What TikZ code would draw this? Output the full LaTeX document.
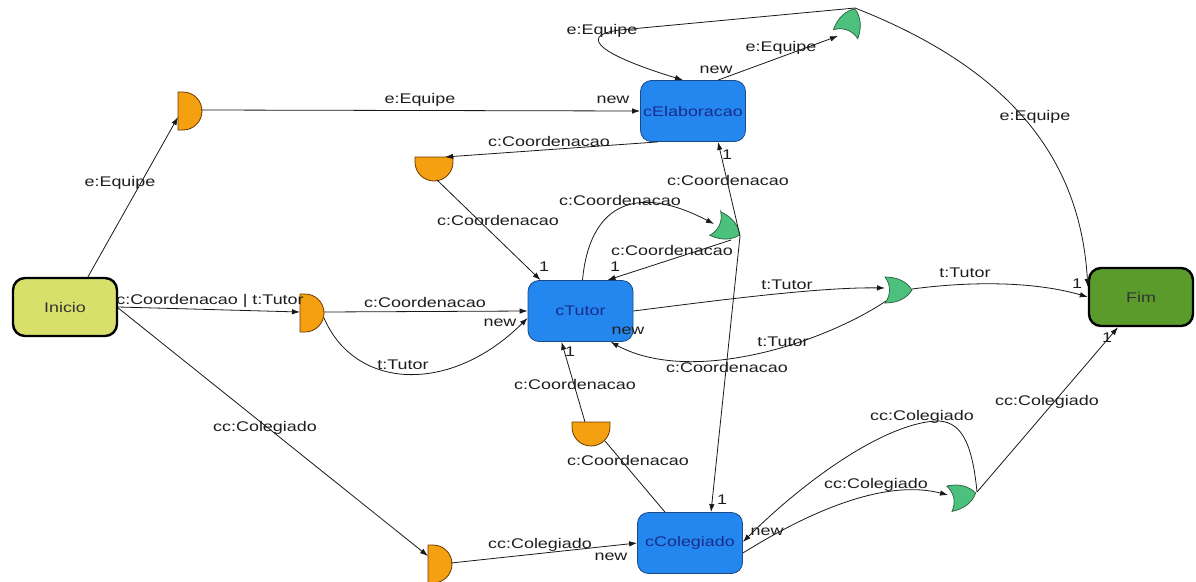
\documentclass[tikz,border=0pt]{standalone}
\usepackage{fontspec}
\newfontfamily\diafont{Liberation Sans}[FakeStretch=1.28]
\usetikzlibrary{arrows.meta,calc}
\definecolor{boxblue}{HTML}{2387EF}
\definecolor{boxedge}{HTML}{1B4A86}
\definecolor{boxtext}{HTML}{1A2C8C}
\definecolor{startfill}{HTML}{D9DF6B}
\definecolor{endfill}{HTML}{5A9B2B}
\definecolor{forkfill}{HTML}{F4A010}
\definecolor{forkedge}{HTML}{6B3A00}
\definecolor{joinfill}{HTML}{4CC07D}
\definecolor{joinedge}{HTML}{2B5E3C}
\definecolor{labelgray}{HTML}{1E1E1E}

\tikzset{
  pics/andgate/.style={code={
    \draw[fill=forkfill, draw=forkedge, line width=0.8pt]
      (0,-19) -- (5,-19) arc[start angle=-90, end angle=90, x radius=19, y radius=19] -- (0,19) -- cycle;}},
  pics/orgate/.style={code={
    \draw[fill=joinfill, draw=joinedge, line width=0.7pt]
      (-13,-13) .. controls (0,-13) and (9,-8) .. (14,0)
      .. controls (9,8) and (0,13) .. (-13,13)
      .. controls (-7,5) and (-7,-5) .. cycle;}}
}

\begin{document}
\begin{tikzpicture}[x=1pt, y=-1pt,
  every node/.style={font=\diafont\fontsize{14}{16}\selectfont},
  lbl/.style={text=labelgray, inner sep=0pt},
  arr/.style={draw=black!90, line width=0.8pt, -{Latex[length=8pt,width=5.5pt]}},
  plain/.style={draw=black!90, line width=0.8pt},
  classbox/.style={rounded corners=11pt, fill=boxblue, draw=boxedge, line width=0.8pt,
    text=boxtext, minimum width=105pt, minimum height=61pt, inner sep=0pt},
  termbox/.style={rounded corners=12pt, draw=black, line width=2.4pt,
    text=black!80, minimum width=104pt, minimum height=58pt, inner sep=0pt}
]
\useasboundingbox (0,0) rectangle (1196,581);
\fill[white] (0,0) rectangle (1196,581);

% activity boxes
\node[termbox, fill=startfill] (ini) at (65,307) {Inicio};
\node[termbox, fill=endfill] (fim) at (1141,297) {Fim};
\node[classbox] (elab) at (693,111) {cElaboracao};
\node[classbox] (tutor) at (580.5,311) {cTutor};
\node[classbox] (coleg) at (690,543) {cColegiado};

% fork gates (orange) and join gates (green)
\pic at (178,111) {andgate};
\pic at (300,313) {andgate};
\pic at (428,564) {andgate};
\pic[rotate=-90] at (434,157) {andgate};
\pic[rotate=-90] at (591,422) {andgate};
\pic[rotate=-25] at (727,229) {orgate};
\pic at (898,290) {orgate};
\pic[rotate=70] at (850,22) {orgate};
\pic[rotate=12] at (962,496) {orgate};

% connection points on the gates
\coordinate (o1in) at (178,117);  \coordinate (o1out) at (201,110);
\coordinate (o2in) at (445,157);  \coordinate (o2out) at (437,180);
\coordinate (o3in) at (300,312);  \coordinate (o3out) at (324,312);
\coordinate (o3low) at (324,318);
\coordinate (o4top) at (585,422); \coordinate (o4low) at (605,441);
\coordinate (o5in) at (428,556);  \coordinate (o5out) at (451,563);
\coordinate (g1in) at (714,224);  \coordinate (g1tip) at (740,236);
\coordinate (g1low) at (731,240);
\coordinate (g2in) at (885,288);  \coordinate (g2tip) at (912,289);
\coordinate (g2low) at (886,301);
\coordinate (g3in) at (838,36);   \coordinate (g3tip) at (855,8);
\coordinate (g4in) at (948,495);  \coordinate (g4tip) at (977,492);

% Inicio branches
\draw[arr] ([xshift=23pt]ini.north) -- (o1in)
  node[lbl] at (120,183) {e:Equipe};
\draw[arr] (ini.east) -- (o3in)
  node[lbl] at (210,301) {c:Coordenacao | t:Tutor};
\draw[arr] ([yshift=-1pt]ini.east) -- (o5in)
  node[lbl] at (265,428) {cc:Colegiado};

% team creation
\draw[arr] (o1out) -- (elab.west)
  node[lbl] at (420,100) {e:Equipe}
  node[lbl] at (613,100) {new};
\draw[arr] ([xshift=25pt]elab.north) -- (g3in)
  node[lbl] at (716,70) {new}
  node[lbl] at (781,48) {e:Equipe};
\draw[arr] (g3tip) -- (620,30) .. controls (585,34) and (585,50) .. ([xshift=-10pt]elab.north)
  node[lbl] at (602,31) {e:Equipe};
\draw[arr] (g3tip) .. controls (1000,65) and (1080,150) .. ([yshift=10pt]fim.west)
  node[lbl] at (1035,117) {e:Equipe};

% coordination
\draw[arr] ([xshift=-35pt]elab.south) -- (o2in)
  node[lbl] at (549,141) {c:Coordenacao};
\draw[arr] (o2out) -- ([xshift=-40pt]tutor.north)
  node[lbl] at (498,220) {c:Coordenacao}
  node[lbl] at (544,267) {1};
\draw[arr] (o3out) -- (tutor.west)
  node[lbl] at (425,302) {c:Coordenacao};
\draw[arr] (o3low) .. controls (355,390) and (450,395) .. ([yshift=-7pt]tutor.west)
  node[lbl] at (403,365) {t:Tutor}
  node[lbl] at (500,323) {new};
\draw[arr] ([xshift=2pt]tutor.north) .. controls (590,200) and (640,185) .. (g1in)
  node[lbl] at (620,200) {c:Coordenacao};
\draw[arr] (g1low) -- ([xshift=27pt]tutor.north)
  node[lbl] at (672,250) {c:Coordenacao}
  node[lbl] at (615,267) {1};
\draw[arr] (g1tip) -- ([xshift=25pt]elab.south)
  node[lbl] at (728,180) {c:Coordenacao}
  node[lbl] at (727,155) {1};
\draw[arr] (g1tip) -- ([xshift=21pt]coleg.north)
  node[lbl] at (722,500) {1};

% tutor
\draw[arr] (tutor.east) .. controls (720,300) and (820,287) .. (g2in)
  node[lbl] at (787,285) {t:Tutor};
\draw[arr] (g2tip) .. controls (980,280) and (1040,283) .. (fim.west)
  node[lbl] at (965,273) {t:Tutor}
  node[lbl] at (1077,284) {1};
\draw[arr] (g2low) .. controls (820,345) and (690,385) .. ([xshift=30pt]tutor.south)
  node[lbl] at (783,342) {t:Tutor}
  node[lbl] at (727,367) {c:Coordenacao}
  node[lbl] at (628,331) {new};

% board
\draw[arr] (o4top) -- ([xshift=-19pt]tutor.south)
  node[lbl] at (575,384) {c:Coordenacao}
  node[lbl] at (570,352) {1};
\draw[plain] ([xshift=-25pt]coleg.north) -- (o4low)
  node[lbl] at (628,460) {c:Coordenacao};
\draw[arr] (o5out) -- (coleg.west)
  node[lbl] at (540,545) {cc:Colegiado}
  node[lbl] at (611,557) {new};
\draw[arr] ([yshift=-10pt]coleg.east) .. controls (820,505) and (890,480) .. (g4in)
  node[lbl] at (876,485) {cc:Colegiado};
\draw[arr] (g4tip) .. controls (972,440) and (960,420) .. (935,421)
  .. controls (880,425) and (800,485) .. ([yshift=1pt]coleg.east)
  node[lbl] at (922,417) {cc:Colegiado}
  node[lbl] at (767,532) {new};
\draw[arr] (g4tip) -- ([xshift=-23pt]fim.south)
  node[lbl] at (1047,402) {cc:Colegiado}
  node[lbl] at (1107,338) {1};
\end{tikzpicture}
\end{document}
